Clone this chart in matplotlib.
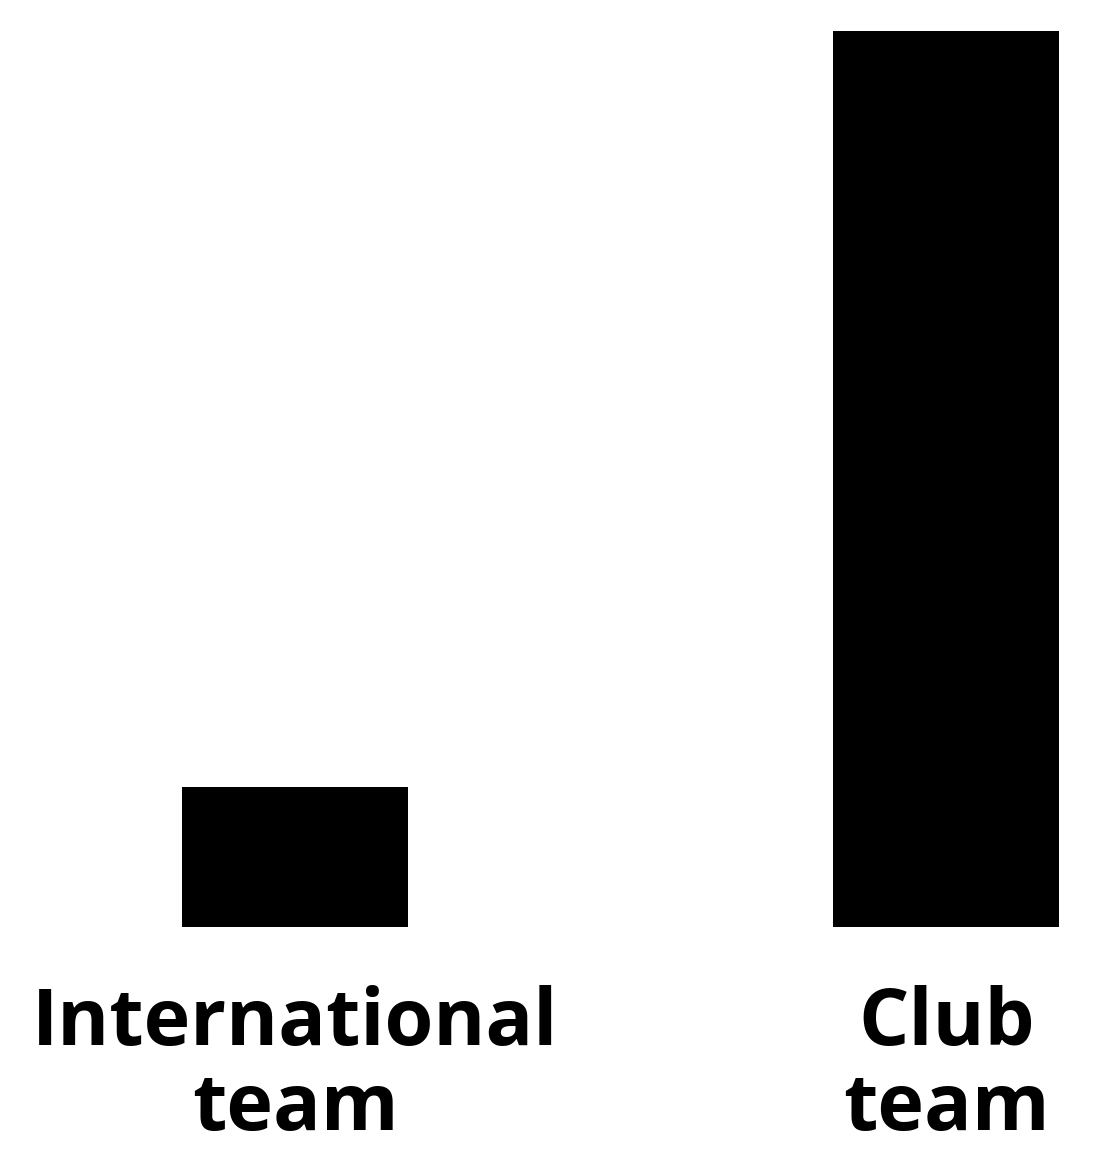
import matplotlib
matplotlib.use("Agg")
import matplotlib.pyplot as plt

categories = ["International\nteam", "Club\nteam"]
values = [15.6, 100]

fig = plt.figure(figsize=(10.98, 11.7), dpi=100)
ax = fig.add_axes([0, 0.2077, 1, 0.7658])

pos = [0, 1]
ax.bar(pos, values, width=0.347, color="black")
ax.set_xlim(-0.453, 1.233)
ax.set_ylim(0, 100)

ax.set_xticks(pos)
ax.set_xticklabels(categories, fontsize=57, fontweight="bold", family="Open Sans",
                   linespacing=1.1)
ax.tick_params(axis="x", length=0, pad=42)
ax.set_yticks([])
for s in ax.spines.values():
    s.set_visible(False)

fig.savefig("out.png", dpi=100, facecolor="white")
